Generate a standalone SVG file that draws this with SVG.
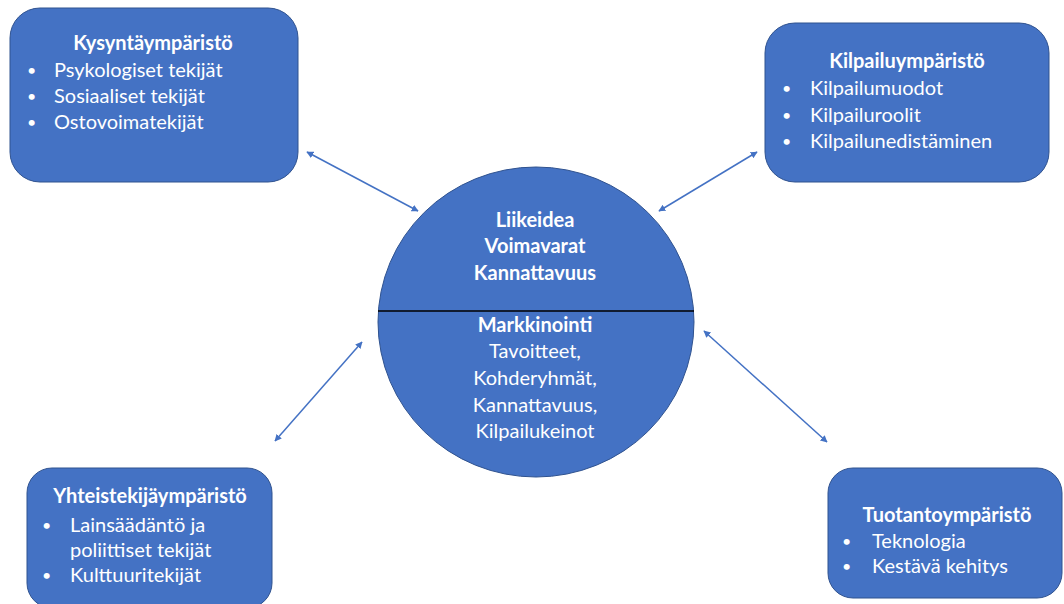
<svg xmlns="http://www.w3.org/2000/svg" width="1064" height="604" viewBox="0 0 1064 604">
  <defs>
    <marker id="head" viewBox="0 0 10 10" refX="9" refY="5" markerWidth="7" markerHeight="7" markerUnits="userSpaceOnUse" orient="auto-start-reverse">
      <path d="M0,0 L10,5 L0,10 z" fill="#4472C4"/>
    </marker>
  </defs>
  <style>
    .box { fill: #4472C4; stroke: #2F528F; stroke-width: 1; }
    .t { font-family: Lato, "Liberation Sans", sans-serif; font-size: 20px; fill: #FFFFFF; }
    .dot { font-family: Lato, "Liberation Sans", sans-serif; font-size: 16px; fill: #FFFFFF; }
    .b { font-weight: bold; }
    .c { text-anchor: middle; }
    .link { stroke: #4472C4; stroke-width: 1.5; fill: none; marker-start: url(#head); marker-end: url(#head); }
  </style>
  <rect width="1064" height="604" fill="#FFFFFF"/>

  <g id="connectors">
    <line class="link" x1="307" y1="152" x2="418" y2="211"/>
    <line class="link" x1="757" y1="152" x2="659" y2="211"/>
    <line class="link" x1="362" y1="342" x2="275" y2="441"/>
    <line class="link" x1="704" y1="331" x2="827" y2="442"/>
  </g>

  <g id="kysynta">
    <rect class="box" x="10" y="8" width="288" height="174" rx="30"/>
    <text class="t b c" x="153" y="50">Kysyntäympäristö</text>
    <text class="dot" x="27" y="76">•</text>
    <text class="t" x="54" y="77">Psykologiset tekijät</text>
    <text class="dot" x="27" y="102">•</text>
    <text class="t" x="54" y="103">Sosiaaliset tekijät</text>
    <text class="dot" x="27" y="128">•</text>
    <text class="t" x="54" y="129">Ostovoimatekijät</text>
  </g>

  <g id="kilpailu">
    <rect class="box" x="765" y="23" width="284" height="159" rx="30"/>
    <text class="t b c" x="907" y="68">Kilpailuympäristö</text>
    <text class="dot" x="782" y="94">•</text>
    <text class="t" x="810" y="95">Kilpailumuodot</text>
    <text class="dot" x="782" y="121">•</text>
    <text class="t" x="810" y="122">Kilpailuroolit</text>
    <text class="dot" x="782" y="147">•</text>
    <text class="t" x="810" y="148">Kilpailunedistäminen</text>
  </g>

  <g id="ydin">
    <ellipse class="box" cx="536" cy="322" rx="158" ry="155"/>
    <line x1="378" y1="311" x2="694" y2="311" stroke="#000000" stroke-width="1.5"/>
    <text class="t b c" x="535" y="227">Liikeidea</text>
    <text class="t b c" x="535" y="253">Voimavarat</text>
    <text class="t b c" x="535" y="280">Kannattavuus</text>
    <text class="t b c" x="535" y="332">Markkinointi</text>
    <text class="t c" x="535" y="358">Tavoitteet,</text>
    <text class="t c" x="535" y="385">Kohderyhmät,</text>
    <text class="t c" x="535" y="412">Kannattavuus,</text>
    <text class="t c" x="535" y="438">Kilpailukeinot</text>
  </g>

  <g id="yhteiskunta">
    <rect class="box" x="27" y="468" width="245" height="140" rx="25"/>
    <text class="t b c" x="150" y="503">Yhteistekijäympäristö</text>
    <text class="dot" x="42" y="531">•</text>
    <text class="t" x="70" y="532">Lainsäädäntö ja</text>
    <text class="t" x="70" y="557">poliittiset tekijät</text>
    <text class="dot" x="42" y="581">•</text>
    <text class="t" x="70" y="582">Kulttuuritekijät</text>
  </g>

  <g id="tuotanto">
    <rect class="box" x="828" y="468" width="234" height="130" rx="25"/>
    <text class="t b c" x="947" y="522">Tuotantoympäristö</text>
    <text class="dot" x="842" y="547">•</text>
    <text class="t" x="872" y="548">Teknologia</text>
    <text class="dot" x="842" y="572">•</text>
    <text class="t" x="872" y="573">Kestävä kehitys</text>
  </g>
</svg>
